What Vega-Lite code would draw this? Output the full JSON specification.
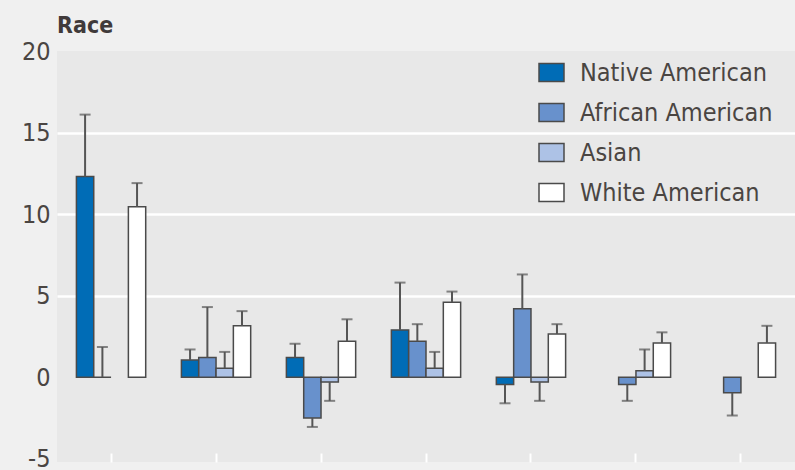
{
  "$schema": "https://vega.github.io/schema/vega-lite/v6.json",
  "autosize": {"type": "none"},
  "width": 738,
  "height": 411,
  "padding": {"left": 57, "top": 51, "right": 0, "bottom": 8},
  "background": "#f0f0f0",
  "title": {"text": "Race", "anchor": "start", "frame": "group", "baseline": "alphabetic", "offset": -17, "font": "DejaVu Sans Condensed", "fontSize": 23, "fontWeight": "bold", "color": "#403a3a"},
  "config": {
    "view": {"fill": "#e8e8e8", "stroke": null},
    "font": "DejaVu Sans Condensed"
  },
  "data": {"values": [
    {"group": "1", "race": "Native American", "value": 12.3, "err": 16.1},
    {"group": "1", "race": "African American", "value": 0, "err": 1.85},
    {"group": "1", "race": "White American", "value": 10.45, "err": 11.9},
    {"group": "2", "race": "Native American", "value": 1.05, "err": 1.7},
    {"group": "2", "race": "African American", "value": 1.2, "err": 4.3},
    {"group": "2", "race": "Asian", "value": 0.55, "err": 1.55},
    {"group": "2", "race": "White American", "value": 3.15, "err": 4.05},
    {"group": "3", "race": "Native American", "value": 1.2, "err": 2.05},
    {"group": "3", "race": "African American", "value": -2.5, "err": -3.05},
    {"group": "3", "race": "Asian", "value": -0.3, "err": -1.45},
    {"group": "3", "race": "White American", "value": 2.2, "err": 3.55},
    {"group": "4", "race": "Native American", "value": 2.9, "err": 5.8},
    {"group": "4", "race": "African American", "value": 2.2, "err": 3.25},
    {"group": "4", "race": "Asian", "value": 0.55, "err": 1.55},
    {"group": "4", "race": "White American", "value": 4.6, "err": 5.25},
    {"group": "5", "race": "Native American", "value": -0.45, "err": -1.6},
    {"group": "5", "race": "African American", "value": 4.2, "err": 6.3},
    {"group": "5", "race": "Asian", "value": -0.3, "err": -1.45},
    {"group": "5", "race": "White American", "value": 2.65, "err": 3.25},
    {"group": "6", "race": "African American", "value": -0.45, "err": -1.45},
    {"group": "6", "race": "Asian", "value": 0.4, "err": 1.7},
    {"group": "6", "race": "White American", "value": 2.1, "err": 2.75},
    {"group": "7", "race": "African American", "value": -0.95, "err": -2.35},
    {"group": "7", "race": "White American", "value": 2.1, "err": 3.15}
  ]},
  "encoding": {
    "x": {
      "field": "group", "type": "nominal",
      "scale": {"paddingInner": 0.34, "paddingOuter": 0.185},
      "axis": {"title": null, "labels": false, "domain": false, "tickSize": -9, "tickColor": "#ffffff", "tickWidth": 2, "grid": false}
    },
    "xOffset": {"field": "race", "type": "nominal", "sort": ["Native American", "African American", "Asian", "White American"]}
  },
  "layer": [
    {
      "mark": {"type": "bar", "stroke": "#4a4a4a", "strokeWidth": 1.5},
      "encoding": {
        "y": {
          "field": "value", "type": "quantitative",
          "scale": {"domain": [-5.2, 20], "nice": false},
          "axis": {
            "title": null, "values": [-5, 0, 5, 10, 15, 20], "domain": false, "ticks": false,
            "labelPadding": 7, "labelFontSize": 25, "labelColor": "#4a4542", "labelFont": "DejaVu Sans Condensed",
            "labelExpr": "datum.value < 0 ? '-' + abs(datum.value) : '' + datum.value",
            "grid": true, "gridColor": "#ffffff", "gridWidth": 2.5,
            "gridOpacity": {"condition": {"test": "datum.value > 0 && datum.value < 20", "value": 1}, "value": 0}
          }
        },
        "color": {
          "field": "race", "type": "nominal",
          "sort": ["Native American", "African American", "Asian", "White American"],
          "scale": {"domain": ["Native American", "African American", "Asian", "White American"], "range": ["#006cb6", "#6891cc", "#adc2e6", "#ffffff"]},
          "legend": {
            "title": null, "orient": "none", "legendX": 481, "legendY": 8, "padding": 0,
            "symbolType": "M-1,-0.72H1V0.72H-1Z", "symbolSize": 625, "symbolStrokeColor": "#4a4a4a", "symbolStrokeWidth": 1.5,
            "labelFontSize": 25, "labelFont": "DejaVu Sans Condensed", "labelColor": "#4a4542", "labelOffset": 15, "rowPadding": 13, "labelLimit": 400
          }
        }
      }
    },
    {
      "mark": {"type": "rule", "color": "#4a4a4a", "strokeWidth": 2},
      "encoding": {"y": {"datum": 0}}
    },
    {
      "mark": {"type": "rule", "color": "#555555", "strokeWidth": 2},
      "encoding": {
        "y": {"field": "value", "type": "quantitative"},
        "y2": {"field": "err"}
      }
    },
    {
      "mark": {"type": "tick", "color": "#555555", "thickness": 2, "size": 11, "orient": "horizontal"},
      "encoding": {
        "y": {"field": "err", "type": "quantitative"}
      }
    }
  ]
}
